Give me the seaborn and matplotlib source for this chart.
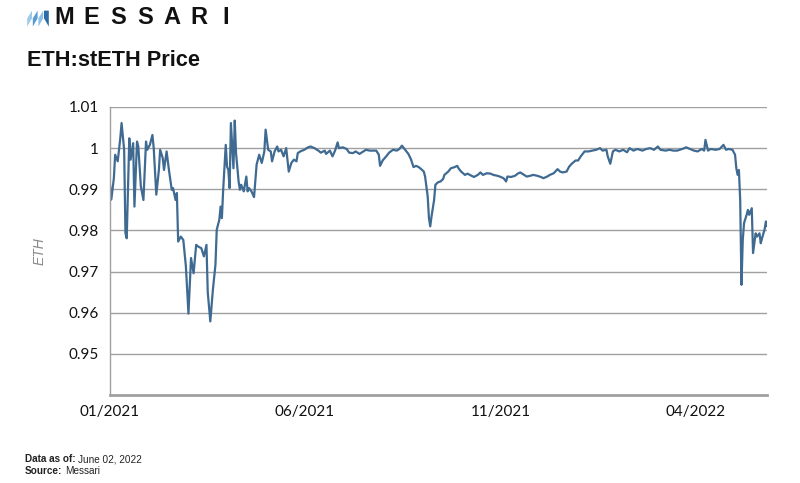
import pandas as pd
import numpy as np
import matplotlib
matplotlib.use('Agg')
import matplotlib.pyplot as plt
import matplotlib.patches as mpatches
import seaborn as sns

# Days since 2021-01-01 and ETH:stETH price
day_offsets = [
    0, 1, 3, 4, 6, 8, 9, 11, 12, 13, 15, 16, 18, 19, 21, 22, 24, 26, 28, 29,
    31, 33, 34, 36, 38, 39, 41, 42, 44, 46, 48, 49, 51, 52, 53, 55, 57, 59, 60, 61,
    63, 65, 67, 69, 71, 73, 75, 76, 78, 80, 82, 83, 85, 86, 87, 88, 90, 91, 92, 93,
    94, 96, 97, 98, 100, 101, 102, 104, 106, 107, 108, 110, 112, 114, 116, 118, 120, 121, 123, 125,
    126, 128, 130, 131, 133, 135, 137, 139, 141, 143, 145, 146, 148, 151, 154, 156, 159, 162, 164, 167,
    168, 171, 173, 175, 177, 178, 181, 184, 186, 189, 191, 194, 197, 199, 202, 204, 207, 209, 210, 212,
    215, 217, 220, 223, 225, 227, 229, 232, 234, 236, 238, 240, 242, 244, 245, 247, 248, 249, 250, 252,
    253, 255, 257, 259, 260, 263, 265, 268, 270, 271, 273, 276, 278, 281, 283, 286, 288, 290, 293, 296,
    298, 301, 303, 306, 308, 309, 312, 315, 317, 319, 322, 324, 327, 329, 332, 335, 337, 340, 342, 345,
    348, 350, 352, 355, 357, 359, 362, 364, 366, 369, 372, 375, 378, 381, 383, 386, 387, 389, 391, 393,
    396, 399, 402, 404, 407, 410, 414, 417, 420, 423, 426, 428, 432, 435, 438, 441, 445, 448, 451, 454,
    457, 460, 462, 463, 465, 467, 471, 474, 477, 479, 481, 484, 486, 487, 488, 489, 490, 491, 492, 493,
    495, 496, 497, 499, 500, 501, 502, 503, 505, 506, 507, 509, 510, 511,
]
price = [
    0.9911, 0.9875, 0.9927, 0.9984, 0.9968, 1.0024, 1.0061, 0.9996, 0.9794, 0.9781,
    1.0024, 0.9972, 1.0012, 0.9858, 1.0016, 1.0004, 0.9907, 0.9874, 1.0016, 0.9996,
    1.0008, 1.0032, 1.0000, 0.9887, 0.9947, 0.9996, 0.9976, 0.9947, 0.9992, 0.9943,
    0.9899, 0.9903, 0.9874, 0.9891, 0.9773, 0.9785, 0.9777, 0.9713, 0.9656, 0.9598,
    0.9733, 0.9696, 0.9765, 0.9760, 0.9757, 0.9737, 0.9765, 0.9650, 0.9579, 0.9656,
    0.9717, 0.9802, 0.9826, 0.9858, 0.9830, 0.9899, 1.0008, 0.9955, 0.9947, 0.9903,
    1.0061, 0.9951, 1.0067, 0.9988, 0.9919, 0.9899, 0.9911, 0.9895, 0.9931, 0.9895,
    0.9903, 0.9895, 0.9881, 0.9960, 0.9984, 0.9964, 0.9992, 1.0045, 0.9996, 0.9992,
    0.9968, 0.9992, 1.0004, 0.9992, 0.9996, 0.9980, 1.0000, 0.9943, 0.9964, 0.9972,
    0.9968, 0.9988, 0.9992, 0.9996, 1.0002, 1.0004, 1.0000, 0.9994, 0.9989, 0.9994,
    0.9986, 0.9994, 0.9980, 0.9994, 1.0014, 1.0000, 1.0002, 0.9998, 0.9989, 0.9988,
    0.9992, 0.9986, 0.9992, 0.9996, 0.9994, 0.9994, 0.9994, 0.9984, 0.9957, 0.9970,
    0.9981, 0.9989, 0.9996, 0.9994, 0.9998, 1.0006, 0.9998, 0.9986, 0.9973, 0.9954,
    0.9957, 0.9954, 0.9949, 0.9943, 0.9931, 0.9883, 0.9830, 0.9810, 0.9834, 0.9874,
    0.9911, 0.9917, 0.9919, 0.9925, 0.9935, 0.9943, 0.9951, 0.9954, 0.9957, 0.9951,
    0.9943, 0.9935, 0.9938, 0.9933, 0.9930, 0.9935, 0.9941, 0.9935, 0.9939, 0.9938,
    0.9935, 0.9933, 0.9931, 0.9927, 0.9919, 0.9931, 0.9930, 0.9933, 0.9938, 0.9941,
    0.9935, 0.9931, 0.9933, 0.9935, 0.9933, 0.9930, 0.9927, 0.9931, 0.9935, 0.9939,
    0.9949, 0.9943, 0.9941, 0.9943, 0.9955, 0.9962, 0.9970, 0.9970, 0.9980, 0.9992,
    0.9992, 0.9994, 0.9996, 1.0000, 0.9994, 0.9996, 0.9980, 0.9962, 0.9992, 0.9996,
    0.9992, 0.9996, 0.9990, 1.0000, 0.9994, 0.9998, 0.9994, 0.9998, 1.0000, 0.9996,
    1.0004, 0.9996, 0.9994, 0.9996, 0.9994, 0.9994, 0.9998, 1.0002, 0.9998, 0.9994,
    0.9992, 0.9998, 0.9994, 1.0020, 0.9994, 0.9998, 0.9996, 0.9998, 1.0008, 0.9996,
    0.9998, 0.9996, 0.9984, 0.9951, 0.9935, 0.9947, 0.9874, 0.9668, 0.9777, 0.9818,
    0.9838, 0.9850, 0.9838, 0.9854, 0.9745, 0.9769, 0.9793, 0.9785, 0.9793, 0.9769,
    0.9781, 0.9803, 0.9822, 0.9810,
]

y_ticks = [0.95, 0.96, 0.97, 0.98, 0.99, 1.00, 1.01]
y_tick_labels = ['0.95', '0.96', '0.97', '0.98', '0.99', '1', '1.01']
x_tick_dates = ['2021-01-01', '2021-06-01', '2021-11-01', '2022-04-01']
x_tick_labels = ['01/2021', '06/2021', '11/2021', '04/2022']

start = pd.Timestamp('2021-01-01')
df = pd.DataFrame({'date': start + pd.to_timedelta(day_offsets, unit='D'), 'price': price})

sns.set_style('white')
plt.rcParams['font.family'] = ['Liberation Sans', 'DejaVu Sans']

fig = plt.figure(figsize=(8, 4.83), dpi=100)
ax = fig.add_axes([0.1375, 0.182, 0.8215, 0.5965])

line_color = '#3F6A92'
grid_color = '#A0A0A0'

sns.lineplot(data=df, x='date', y='price', ax=ax, color=line_color, linewidth=1.6)

ax.set_ylim(0.94, 1.01)
ax.set_xlim(df['date'].iloc[0], df['date'].iloc[-1])
ax.set_yticks(y_ticks)
ax.set_yticklabels(y_tick_labels)
ax.set_xticks(pd.to_datetime(x_tick_dates))
ax.set_xticklabels(x_tick_labels)
for lab in ax.get_xticklabels() + ax.get_yticklabels():
    lab.set_fontfamily(['Lato', 'DejaVu Sans'])
    lab.set_fontsize(11)
    lab.set_color('#111111')
ax.tick_params(axis='both', length=0)
ax.tick_params(axis='x', pad=7)
ax.tick_params(axis='y', pad=8)
ax.grid(axis='y', color=grid_color, linewidth=1.0)
ax.set_axisbelow(True)

for s in ['top', 'right']:
    ax.spines[s].set_visible(False)
ax.spines['left'].set_color(grid_color)
ax.spines['left'].set_linewidth(1.0)
ax.spines['bottom'].set_color(grid_color)
ax.spines['bottom'].set_linewidth(2.0)

ax.set_xlabel('')
ax.set_ylabel('ETH', fontsize=10, color='#8A8A8A', style='italic', labelpad=16)

# Header: logo + brand name
bars = [
    ([0.034, 0.040, 0.040, 0.034], [0.945, 0.962, 0.978, 0.962], '#9CCBEA'),
    ([0.041, 0.047, 0.047, 0.041], [0.945, 0.962, 0.978, 0.962], '#5A9BD0'),
    ([0.048, 0.054, 0.054, 0.048], [0.945, 0.962, 0.978, 0.962], '#8DC0E6'),
    ([0.055, 0.061, 0.061, 0.055], [0.962, 0.945, 0.978, 0.978], '#2E6BA6'),
]
for xs, ys, c in bars:
    fig.patches.append(mpatches.Polygon(list(zip(xs, ys)), closed=True, facecolor=c,
                                        edgecolor='none', transform=fig.transFigure))

letters = list('MESSARI')
letter_x = [64, 91, 118, 145, 172, 199, 226]
for ch, lx in zip(letters, letter_x):
    fig.text(lx / 800, 1 - 18 / 483, ch, fontsize=17, fontweight='bold', color='#111111',
             ha='center', va='center')

fig.text(27 / 800, 1 - 60 / 483, 'ETH:stETH Price', fontsize=15.7, fontweight='bold',
         color='#111111', ha='left', va='center')

# Footer with bold lead-ins
renderer = fig.canvas.get_renderer()
for label, rest, ypx in [('Data as of:', 'June 02, 2022', 459), ('Source:', 'Messari', 471)]:
    t = fig.text(25 / 800, 1 - ypx / 483, label, fontsize=7.2, fontweight='bold',
                 color='#222222', ha='left', va='center')
    w = t.get_window_extent(renderer=renderer).width
    fig.text((25 + w + 2.5) / 800, 1 - ypx / 483, rest, fontsize=7.2, color='#222222',
             ha='left', va='center')

fig.savefig('out.png', dpi=100)
